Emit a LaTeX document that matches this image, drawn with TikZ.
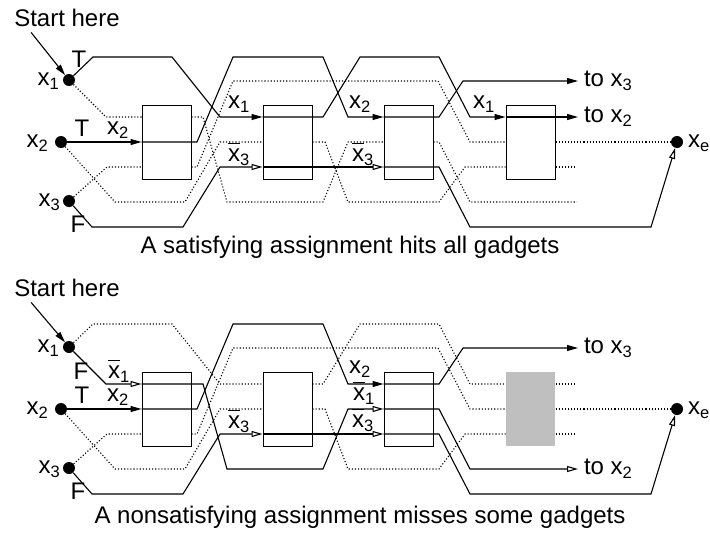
\documentclass[tikz,border=0pt]{standalone}
\usepackage{fontspec}
\setmainfont{Liberation Sans}
\usetikzlibrary{arrows.meta}

\newcommand{\sub}[1]{\raisebox{-0.17em}{\fontsize{16.5}{16.5}\selectfont #1}}
\newcommand{\xv}[1]{x\sub{#1}}
\newcommand{\xb}[1]{\rlap{\rule[0.7em]{0.5em}{1.2pt}}x\sub{#1}}

\begin{document}
\begin{tikzpicture}[x=1pt, y=-1pt, font=\fontsize{24}{28}\selectfont,
  wire/.style={line width=1.1pt},
  ghost/.style={line width=1.1pt, dotted},
  postip/.style={-{Triangle[length=11pt,width=6pt]}},
  negtip/.style={-{Triangle[open,length=11pt,width=6pt]}},
  dot/.style={circle, fill, inner sep=0pt, minimum size=12pt},
  gadget/.style={draw, fill=white, line width=1pt, minimum width=49pt, minimum height=74pt, inner sep=0pt},
  lbl/.style={inner sep=0pt},
  tolbl/.style={inner sep=0pt, outer xsep=6pt, anchor=west},
  ]
  \useasboundingbox (0,0) rectangle (710,533);

  %%% top: satisfying assignment (x1=T, x2=T, x3=F) %%%
  \begin{scope}[name prefix=a-]
    \node[lbl, anchor=base] (start) at (67,26) {Start here};
    \node[dot] (x1) at (69,80) {};
    \node[dot] (x2) at (61,142) {};
    \node[dot] (x3) at (69,201) {};
    \node[dot] (xe) at (677,142) {};
    \node[lbl, anchor=base east] (x1-l) at (59,85) {\xv1};
    \node[lbl, anchor=base east] (x2-l) at (48,147) {\xv2};
    \node[lbl, anchor=base east] (x3-l) at (60,206) {\xv3};
    \node[lbl, anchor=base west] (xe-l) at (688,147) {\xv{e}};
    \foreach \g/\gx in {1/166.5,2/287.5,3/408.5,4/530.5}
      \node[gadget] (g\g) at (\gx,142) {};
    \node[tolbl] (tox3) at (578,81) {to \xv3};
    \node[tolbl] (tox2) at (578,117) {to \xv2};

    %%% untaken paths %%%
    \draw[ghost] (x1) -- (106,117) -- (g1.west |- 0,117);
    \draw[ghost] (g1.east |- 0,117) -- (203,117) -- (227,202) -- (323,202) -- (348,142) -- (g3.west |- 0,142);
    \draw[ghost] (g3.east |- 0,142) -- (439,142) -- (470,202) -- (577,202);
    \draw[ghost] (x2) -- (115,202) -- (185,202) -- (220,142) -- (g2.west |- 0,142);
    \draw[ghost] (g2.east |- 0,142) -- (325,142) -- (348,202) -- (439,202) -- (465,167) -- (g4.west |- 0,167);
    \draw[ghost] (g4.east |- 0,167) -- (577,167);
    \draw[ghost] (x3) -- (107,167) -- (g1.west |- 0,167);
    \draw[ghost] (g1.east |- 0,167) -- (197,167) -- (233,81) -- (438,81) -- (470,142) -- (g4.west |- 0,142);
    \draw[ghost] (g4.east |- 0,142) -- (xe);

    %%% chosen paths %%%
    \draw[wire, postip] (start.south west) ++(17,6) -- (x1);
    \draw[wire, postip] (x1) -- (93,57) -- (172,57) -- (220,117) -- (g2.west |- 0,117);
    \draw[wire, postip] (g2.west |- 0,117) -- (323,117) -- (360,57) -- (439,57) -- (470,117) -- (g4.west |- 0,117);
    \draw[wire, postip] (g4.west |- 0,117) -- (tox2);
    \draw[wire, postip] (x2) -- (g1.west |- 0,142);
    \draw[wire, postip] (g1.west |- 0,142) -- (197,142) -- (233,57) -- (323,57) -- (348,117) -- (g3.west |- 0,117);
    \draw[wire, postip] (g3.west |- 0,117) -- (439,117) -- (463,81) -- (tox3);
    \draw[wire, negtip] (x3) -- (92,227) -- (183,227) -- (220,167) -- (g2.west |- 0,167);
    \draw[wire, negtip] (g2.west |- 0,167) -- (g3.west |- 0,167);
    \draw[wire, negtip] (g3.west |- 0,167) -- (439,167) -- (470,227) -- (651,227) -- (xe);

    %%% literal labels %%%
    \node[lbl, anchor=base] (t1) at (79,67) {T};
    \node[lbl, anchor=base] (t2) at (82,136) {T};
    \node[lbl, anchor=base] (f3) at (78,232) {F};
    \node[lbl, anchor=base west] (l-x2) at (107,134) {\xv2};
    \node[lbl, anchor=base west] (l-g2a) at (228,108) {\xv1};
    \node[lbl, anchor=base west] (l-g2c) at (228,161) {\xb3};
    \node[lbl, anchor=base west] (l-g3a) at (349,108) {\xv2};
    \node[lbl, anchor=base west] (l-g3c) at (352,161) {\xb3};
    \node[lbl, anchor=base west] (l-g4a) at (473,108) {\xv1};
  \end{scope}
  \node[lbl, anchor=base] (cap-a) at (350,253) {A satisfying assignment hits all gadgets};

  %%% bottom: nonsatisfying assignment (x1=F, x2=T, x3=F) %%%
  \begin{scope}[yshift=-267pt, name prefix=b-]
    \node[lbl, anchor=base] (start) at (67,29) {Start here};
    \node[dot] (x1) at (69,80) {};
    \node[dot] (x2) at (61,142) {};
    \node[dot] (x3) at (69,201) {};
    \node[dot] (xe) at (677,142) {};
    \node[lbl, anchor=base east] (x1-l) at (59,85) {\xv1};
    \node[lbl, anchor=base east] (x2-l) at (48,147) {\xv2};
    \node[lbl, anchor=base east] (x3-l) at (60,206) {\xv3};
    \node[lbl, anchor=base west] (xe-l) at (688,147) {\xv{e}};
    \foreach \g/\gx in {1/166.5,2/287.5,3/408.5}
      \node[gadget] (g\g) at (\gx,142) {};
    \node[gadget, draw=none, fill=black!25] (g4) at (530.5,142) {};
    \node[tolbl] (tox3) at (578,81) {to \xv3};
    \node[tolbl] (tox2) at (578,202) {to \xv2};

    %%% untaken paths %%%
    \draw[ghost] (x1) -- (93,57) -- (172,57) -- (220,117) -- (g2.west |- 0,117);
    \draw[ghost] (g2.east |- 0,117) -- (323,117) -- (360,57) -- (439,57) -- (470,117) -- (g4.west |- 0,117);
    \draw[ghost] (g4.east |- 0,117) -- (577,117);
    \draw[ghost] (x2) -- (115,202) -- (185,202) -- (220,142) -- (g2.west |- 0,142);
    \draw[ghost] (g2.east |- 0,142) -- (325,142) -- (348,202) -- (439,202) -- (465,167) -- (g4.west |- 0,167);
    \draw[ghost] (g4.east |- 0,167) -- (577,167);
    \draw[ghost] (x3) -- (107,167) -- (g1.west |- 0,167);
    \draw[ghost] (g1.east |- 0,167) -- (197,167) -- (233,81) -- (438,81) -- (470,142) -- (g4.west |- 0,142);
    \draw[ghost] (g4.east |- 0,142) -- (xe);

    %%% chosen paths %%%
    \draw[wire, postip] (start.south west) ++(17,6) -- (x1);
    \draw[wire, negtip] (x1) -- (106,117) -- (g1.west |- 0,117);
    \draw[wire, negtip] (g1.west |- 0,117) -- (203,117) -- (227,202) -- (323,202) -- (348,142) -- (g3.west |- 0,142);
    \draw[wire, negtip] (g3.west |- 0,142) -- (439,142) -- (470,202) -- (tox2);
    \draw[wire, postip] (x2) -- (g1.west |- 0,142);
    \draw[wire, postip] (g1.west |- 0,142) -- (197,142) -- (233,57) -- (323,57) -- (348,117) -- (g3.west |- 0,117);
    \draw[wire, postip] (g3.west |- 0,117) -- (439,117) -- (463,81) -- (tox3);
    \draw[wire, negtip] (x3) -- (92,227) -- (183,227) -- (220,167) -- (g2.west |- 0,167);
    \draw[wire, negtip] (g2.west |- 0,167) -- (g3.west |- 0,167);
    \draw[wire, negtip] (g3.west |- 0,167) -- (439,167) -- (470,227) -- (651,227) -- (xe);

    %%% literal labels %%%
    \node[lbl, anchor=base] (f1) at (81,112) {F};
    \node[lbl, anchor=base] (t2) at (82,136) {T};
    \node[lbl, anchor=base] (f3) at (78,232) {F};
    \node[lbl, anchor=base west] (l-x1) at (108,111) {\xb1};
    \node[lbl, anchor=base west] (l-x2) at (107,134) {\xv2};
    \node[lbl, anchor=base west] (l-g2c) at (228,161) {\xb3};
    \node[lbl, anchor=base west] (l-g3a) at (349,106) {\xv2};
    \node[lbl, anchor=base west] (l-g3b) at (353,133) {\xb1};
    \node[lbl, anchor=base west] (l-g3c) at (352,160) {\xb3};
  \end{scope}
  \node[lbl, anchor=base] (cap-b) at (360,523) {A nonsatisfying assignment misses some gadgets};
\end{tikzpicture}
\end{document}
